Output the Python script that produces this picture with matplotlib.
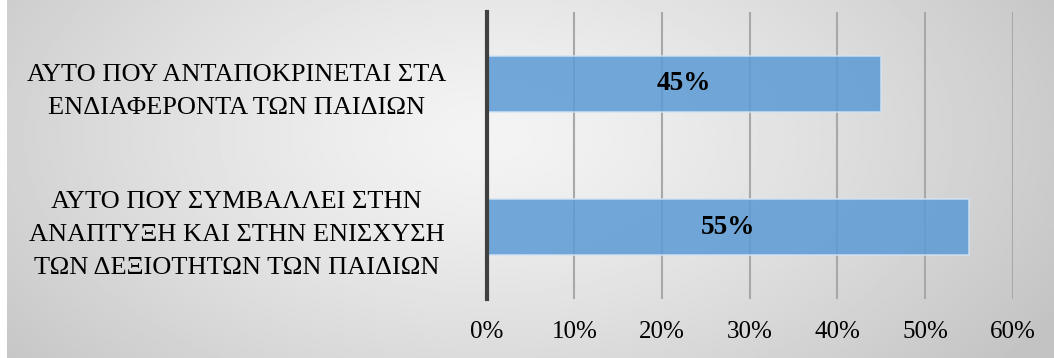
import numpy as np
import matplotlib
matplotlib.use("Agg")
import matplotlib.pyplot as plt
from matplotlib.ticker import PercentFormatter

plt.rcParams['font.family'] = ['Liberation Serif', 'DejaVu Serif']

categories = [
    "ΑΥΤΟ ΠΟΥ ΑΝΤΑΠΟΚΡΙΝΕΤΑΙ ΣΤΑ\nΕΝΔΙΑΦΕΡΟΝΤΑ ΤΩΝ ΠΑΙΔΙΩΝ",
    "ΑΥΤΟ ΠΟΥ ΣΥΜΒΑΛΛΕΙ ΣΤΗΝ\nΑΝΑΠΤΥΞΗ ΚΑΙ ΣΤΗΝ ΕΝΙΣΧΥΣΗ\nΤΩΝ ΔΕΞΙΟΤΗΤΩΝ ΤΩΝ ΠΑΙΔΙΩΝ",
]
values = [0.45, 0.55]
x_ticks = [0.0, 0.1, 0.2, 0.3, 0.4, 0.5, 0.6]

W, H = 1054, 358
fig = plt.figure(figsize=(W / 100, H / 100), dpi=100)
fig.patch.set_facecolor("white")

# radial grey background panel
bg = fig.add_axes([7 / W, 0, 1 - 7 / W, 1], zorder=0)
ny, nx = 180, 520
yy, xx = np.mgrid[0:ny, 0:nx]
cx, cy = nx * 0.46, ny * 0.38
r = np.sqrt(((xx - cx) / (nx * 0.62)) ** 2 + ((yy - cy) / (ny * 1.05)) ** 2)
r = np.clip(r, 0, 1)
shade = 0.955 - 0.19 * r ** 1.3
bg.imshow(shade, cmap="gray", vmin=0, vmax=1, aspect="auto",
          interpolation="bilinear", extent=[0, 1, 0, 1])
bg.axis("off")

left, right = 486.8 / W, 1012.7 / W
top, bottom = 1 - 12 / H, 1 - 299 / H
ax = fig.add_axes([left, bottom, right - left, top - bottom], zorder=1)
ax.patch.set_alpha(0)

ypos = np.arange(len(categories))
bars = ax.barh(ypos, values, height=0.39, color="#5b9bd5", alpha=0.85,
               edgecolor="#d2e3f3", linewidth=1.2, zorder=3)

for y, v in zip(ypos, values):
    ax.text(v / 2, y, f"{v:.0%}", ha="center", va="center",
            fontsize=19.5, fontweight="bold", color="black", zorder=4)

ax.set_xlim(0, 0.6)
ax.set_ylim(len(categories) - 0.5, -0.5)
ax.set_xticks(x_ticks)
ax.xaxis.set_major_formatter(PercentFormatter(1.0, decimals=0))
ax.grid(axis="x", color="#a8a8a8", linewidth=1.5, zorder=1)
ax.set_axisbelow(True)

ax.set_yticks(ypos)
ax.set_yticklabels(categories, fontsize=19, ha="center", linespacing=1.62)
ax.tick_params(axis="y", length=0, pad=180)
ax.tick_params(axis="x", length=0, pad=16, labelsize=18)

for s in ["top", "right", "bottom"]:
    ax.spines[s].set_visible(False)
ax.spines["left"].set_color("#404040")
ax.spines["left"].set_linewidth(3)
ax.spines["left"].set_zorder(5)

fig.savefig("out.png", dpi=100)
